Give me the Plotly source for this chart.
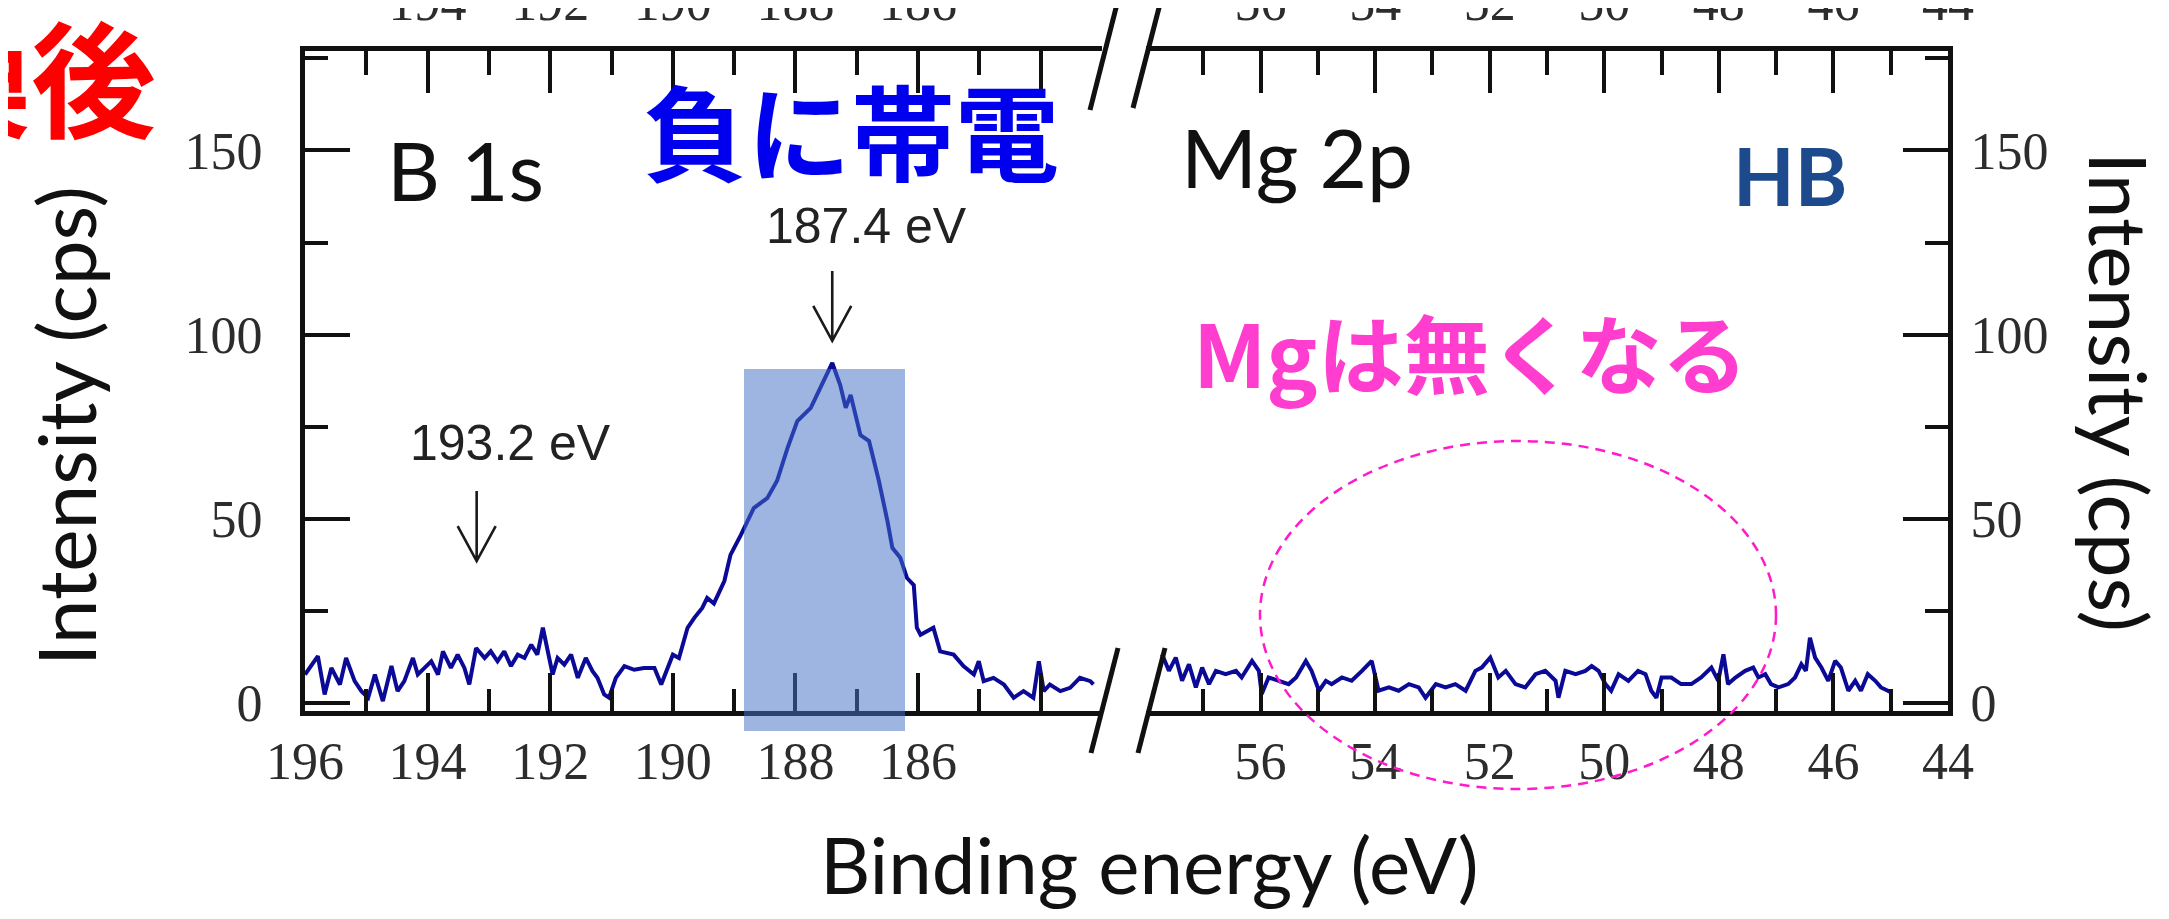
import plotly.graph_objects as go

# ---------------- data ----------------
b1s_energy = [196.00, 195.79, 195.68, 195.57, 195.43, 195.33, 195.19, 195.08, 194.97, 194.86,
              194.73, 194.59, 194.49, 194.38, 194.24, 194.16, 194.05, 193.94, 193.83, 193.75,
              193.62, 193.51, 193.40, 193.32, 193.21, 193.07, 192.97, 192.86, 192.75, 192.64,
              192.53, 192.42, 192.31, 192.21, 192.12, 192.04, 191.96, 191.88, 191.77, 191.66,
              191.55, 191.42, 191.31, 191.23, 191.12, 191.04, 190.93, 190.79, 190.63, 190.47,
              190.30, 190.19, 190.08, 190.00, 189.90, 189.82, 189.76, 189.65, 189.52, 189.44,
              189.33, 189.16, 189.06, 188.89, 188.68, 188.46, 188.30, 188.13, 187.97, 187.75,
              187.59, 187.40, 187.27, 187.18, 187.10, 186.94, 186.80, 186.64, 186.50, 186.42,
              186.29, 186.18, 186.07, 186.02, 185.96, 185.75, 185.64, 185.42, 185.26, 185.09,
              185.01, 184.93, 184.77, 184.60, 184.44, 184.28, 184.12, 184.03, 183.95, 183.85,
              183.68, 183.52, 183.36, 183.19, 183.14]
b1s_counts = [7.7, 12.7, 2.3, 9.5, 5.0, 12.2, 5.9, 3.2, 1.4, 7.7,
              0.5, 10.0, 3.2, 5.9, 12.2, 7.7, 9.5, 11.3, 7.7, 14.0,
              9.5, 13.1, 9.5, 5.0, 14.9, 12.2, 14.0, 11.3, 14.0, 10.0,
              13.1, 12.2, 15.8, 13.1, 20.4, 14.0, 7.7, 12.2, 10.4, 13.1,
              6.8, 12.2, 8.6, 6.8, 2.3, 1.4, 6.8, 10.0, 9.0, 9.5,
              9.5, 5.0, 9.5, 13.1, 12.2, 16.7, 20.4, 23.1, 25.8, 28.5,
              27.0, 33.1, 40.2, 45.6, 52.9, 55.6, 60.3, 69.2, 76.5, 80.1,
              85.5, 92.3, 86.3, 80.1, 83.6, 72.7, 71.1, 60.3, 49.4, 42.1,
              39.4, 33.9, 32.0, 20.4, 18.5, 20.4, 14.0, 13.1, 10.0, 7.7,
              11.3, 5.9, 6.8, 5.0, 1.4, 3.2, 1.4, 11.3, 3.2, 5.0,
              3.2, 4.1, 6.8, 5.9, 5.0]

mg2p_energy = [57.72, 57.60, 57.48, 57.37, 57.25, 57.13, 57.02, 56.90, 56.78, 56.61,
               56.43, 56.33, 56.15, 56.03, 55.98, 55.86, 55.68, 55.51, 55.38, 55.21,
               55.11, 54.98, 54.86, 54.76, 54.58, 54.41, 54.23, 54.06, 53.94, 53.76,
               53.59, 53.41, 53.24, 53.12, 52.94, 52.77, 52.60, 52.42, 52.25, 52.14,
               51.99, 51.85, 51.72, 51.55, 51.38, 51.20, 51.03, 50.85, 50.80, 50.68,
               50.50, 50.33, 50.22, 50.10, 49.98, 49.88, 49.75, 49.58, 49.41, 49.28,
               49.18, 49.09, 49.00, 48.83, 48.66, 48.48, 48.31, 48.13, 48.01, 47.92,
               47.84, 47.71, 47.54, 47.40, 47.31, 47.19, 47.09, 46.96, 46.79, 46.67,
               46.56, 46.48, 46.41, 46.32, 46.21, 46.09, 45.97, 45.87, 45.74, 45.62,
               45.52, 45.40, 45.27, 45.17, 45.05, 44.99]
mg2p_counts = [13.2, 8.7, 12.3, 6.0, 10.5, 4.2, 9.6, 5.1, 8.7, 7.8,
               8.7, 6.9, 11.4, 8.7, 2.4, 6.9, 6.0, 5.1, 6.9, 11.4,
               8.7, 3.3, 6.0, 5.1, 6.9, 6.0, 8.7, 11.4, 3.3, 4.2,
               3.3, 5.1, 4.2, 1.4, 5.1, 4.2, 5.1, 3.3, 8.7, 9.6,
               12.3, 6.9, 8.7, 5.1, 4.2, 7.8, 8.7, 6.0, 1.4, 8.7,
               7.8, 8.7, 10.0, 8.7, 5.1, 3.3, 7.8, 6.0, 8.7, 7.8,
               3.3, 1.4, 6.9, 6.9, 5.1, 5.1, 6.9, 9.6, 6.0, 13.2,
               5.1, 6.9, 8.7, 9.6, 6.9, 7.8, 5.1, 4.2, 5.1, 6.9,
               10.5, 8.7, 17.7, 12.3, 9.6, 6.0, 11.4, 9.6, 3.3, 6.0,
               3.3, 7.8, 6.0, 4.2, 3.3, 2.8]

left_range = [196, 183]
right_range = [58, 44]
y_range = [-2.2, 177]

left_major = [196, 194, 192, 190, 188, 186, 184]
left_bottom_text = ["196", "194", "192", "190", "188", "186", ""]
left_top_text = ["", "194", "192", "190", "188", "186", ""]
left_minor = [195, 193, 191, 189, 187, 185, 183]
right_major = [56, 54, 52, 50, 48, 46, 44]
right_text = ["56", "54", "52", "50", "48", "46", "44"]
right_minor = [57, 55, 53, 51, 49, 47, 45]
y_major = [0, 50, 100, 150]
y_major_text = ["0", "50", "100", "150"]
y_minor = [25, 75, 125, 175]

peak_labels = ["187.4 eV", "193.2 eV"]
peak_energy = [187.4, 193.2]
arrow_top = [117.3, 57.5]
arrow_tip = [98.3, 38.5]

# ---------------- geometry helpers (pixel -> paper) ----------------
W, H = 2169, 919
L, R, T, B = 297, 1940, 43, 703
def px(x):
    return (x - L) / (R - L)
def py(y):
    return (B - y) / (B - T)

split_left = px(1094)
split_right = px(1138)

LINE = "#0a0a96"
INK = "#111111"
TICKFONT = dict(family="Liberation Serif", size=52, color="#2c2c2c")

fig = go.Figure()
fig.add_trace(go.Scatter(x=b1s_energy, y=b1s_counts, mode="lines",
                         line=dict(color=LINE, width=4), xaxis="x", yaxis="y",
                         showlegend=False, hoverinfo="skip"))
fig.add_trace(go.Scatter(x=mg2p_energy, y=mg2p_counts, mode="lines",
                         line=dict(color=LINE, width=4), xaxis="x2", yaxis="y2",
                         showlegend=False, hoverinfo="skip"))
# empty traces so every overlay axis gets its own subplot
for xa, ya in [("x3", "y"), ("x4", "y2"), ("x5", "y"), ("x6", "y2"), ("x7", "y"), ("x8", "y2")]:
    fig.add_trace(go.Scatter(x=[], y=[], xaxis=xa, yaxis=ya, showlegend=False, hoverinfo="skip"))


def xax(domain=None, rng=None, anchor=None, side="bottom", vals=None, text=None,
        length=38, line=False, overlaying=None, labels=True, standoff=1):
    d = dict(range=rng, anchor=anchor, side=side, showgrid=False, zeroline=False,
             ticks="inside", ticklen=length, tickwidth=4, tickcolor=INK,
             tickmode="array", tickvals=vals, showticklabels=labels,
             tickfont=TICKFONT, showline=line, linecolor=INK, linewidth=5,
             automargin=False, ticklabelstandoff=standoff)
    if text is not None:
        d["ticktext"] = text
    if domain is not None:
        d["domain"] = domain
    if overlaying is not None:
        d["overlaying"] = overlaying
    return d


def yax(anchor, side, standoff):
    return dict(domain=[0, 1], range=y_range, anchor=anchor, side=side, showgrid=False,
                zeroline=False, ticks="inside", ticklen=45, tickwidth=4, tickcolor=INK,
                tickmode="array", tickvals=y_major, ticktext=y_major_text, tickfont=TICKFONT,
                minor=dict(tickmode="array", tickvals=y_minor, ticks="inside", ticklen=23,
                           tickwidth=4, tickcolor=INK, showgrid=False),
                showline=True, linecolor=INK, linewidth=5, automargin=False,
                ticklabelstandoff=standoff)


fig.update_layout(
    template="none",
    width=W, height=H,
    margin=dict(l=L, r=W - R, t=T, b=H - B, autoexpand=False),
    paper_bgcolor="white", plot_bgcolor="white",
    xaxis=xax([0, split_left], left_range, "y", "bottom", left_major, left_bottom_text, 38, True),
    xaxis2=xax([split_right, 1], right_range, "y2", "bottom", right_major, right_text, 38, True),
    xaxis3=xax(None, left_range, "y", "top", left_major, left_top_text, 42, True, "x", True, 5),
    xaxis4=xax(None, right_range, "y2", "top", right_major, right_text, 42, True, "x2", True, 5),
    xaxis5=xax(None, left_range, "y", "bottom", left_minor, None, 22, False, "x", False),
    xaxis6=xax(None, right_range, "y2", "bottom", right_minor, None, 22, False, "x2", False),
    xaxis7=xax(None, left_range, "y", "top", left_minor, None, 24, False, "x", False),
    xaxis8=xax(None, right_range, "y2", "top", right_minor, None, 24, False, "x2", False),
    yaxis=yax("x", "left", 27),
    yaxis2=yax("x2", "right", 7),
)

shapes = []
# highlighted peak band
shapes.append(dict(type="rect", xref="paper", yref="paper", x0=px(736), x1=px(897),
                   y0=py(723), y1=py(361), fillcolor="rgba(68,114,196,0.52)",
                   line=dict(width=0), layer="above"))
# dashed ellipse round the Mg region
shapes.append(dict(type="circle", xref="paper", yref="paper", x0=px(1252), x1=px(1768),
                   y0=py(781), y1=py(433), line=dict(color="#ff1acb", width=2.5, dash="10px,7px"),
                   layer="above"))
# axis break slashes
for (xa, ya, xb, yb) in [(1110, 640, 1083, 745), (1157, 640, 1130, 745),
                         (1110, -8, 1082, 102), (1153, -8, 1125, 100)]:
    shapes.append(dict(type="line", xref="paper", yref="paper", x0=px(xa), y0=py(ya),
                       x1=px(xb), y1=py(yb), line=dict(color=INK, width=5), layer="above"))
# arrows (open chevrons)
for e, top, tip in zip(peak_energy, arrow_top, arrow_tip):
    dx = 0.31
    dy = 9.5
    shapes.append(dict(type="path", xref="x", yref="y",
                       path=f"M {e},{top} L {e},{tip} M {e+dx},{tip+dy} L {e},{tip} L {e-dx},{tip+dy}",
                       line=dict(color="#1a1a1a", width=2.6)))
fig.update_layout(shapes=shapes)

SANS = "Lato"
CJK = "Noto Sans CJK JP"
ann = []
def text(t, x, y, size, color="#111111", family=SANS, bold=False, angle=0, xanchor="center"):
    s = f"<b>{t}</b>" if bold else t
    ann.append(dict(text=s, x=px(x), y=py(y), xref="paper", yref="paper", showarrow=False,
                    xanchor=xanchor, yanchor="middle", textangle=angle,
                    font=dict(family=family, size=size, color=color)))

text(peak_labels[0], 858, 218, 50, color="#222222", family="Liberation Sans")
text(peak_labels[1], 502, 435, 50, color="#222222", family="Liberation Sans")
text("B 1s", 457, 161, 82)
text("Mg 2p", 1289, 148, 82)
text("HB", 1782, 167, 80, color="#1c4a8c", bold=True)
text("負に帯電", 843, 120, 104, color="#0000ee", family=CJK, bold=True)
text("Mgは無くなる", 1462, 342, 86, color="#ff3dcf", family=CJK, bold=True)
text("交換後", 150, 66, 125, color="#ff0000", family=CJK, bold=True, xanchor="right")
text("Binding energy (eV)", 1141, 856, 78)
text("Intensity (cps)", 57, 418, 80, angle=-90)
text("Intensity (cps)", 2112, 384, 80, angle=90)
fig.update_layout(annotations=ann)

fig.write_html("out.html")
